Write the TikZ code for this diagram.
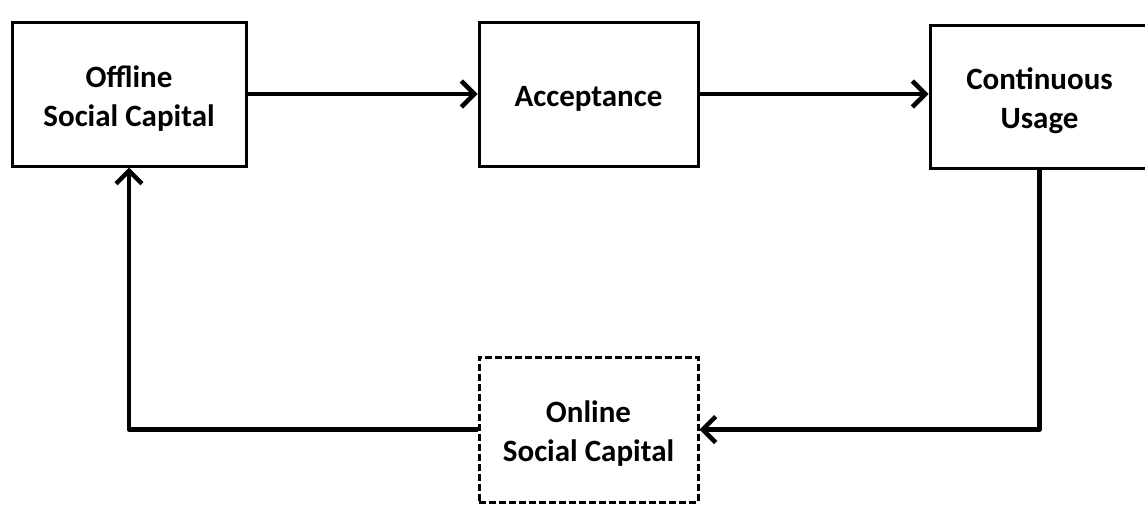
\documentclass[tikz,border=0pt]{standalone}
\usepackage{fontspec}
\setmainfont{Carlito}
\usetikzlibrary{arrows.meta}
\begin{document}
\begin{tikzpicture}[x=1pt,y=-1pt,
  box/.style={draw=black, line width=3pt, fill=white, rectangle, align=center,
    inner sep=0pt, font=\fontsize{31}{39}\selectfont\bfseries},
  dashbox/.style={box, dash pattern=on 7pt off 3pt},
  twoline/.style={text height=69pt},
  oneline/.style={text height=25pt, text depth=0pt},
  flow/.style={line width=4.5pt, line join=round,
    -{Straight Barb[length=13pt, width=26pt, line width=4.5pt]}}]
  \useasboundingbox (0,0) rectangle (1145,507);
  \node[box, twoline, minimum width=234pt, minimum height=144pt] (off) at (129,94)
    {Offline\\Social Capital};
  \node[box, oneline, minimum width=219pt, minimum height=144pt] (acc) at (588.5,94)
    {Acceptance};
  \node[box, twoline, minimum width=219pt, minimum height=143pt] (cont) at (1039.5,96.5)
    {Continuous\\Usage};
  \node[dashbox, twoline, minimum width=219pt, minimum height=145pt] (onl) at (588.5,429.5)
    {Online\\Social Capital};
  \draw[flow] (off.east) -- (acc.west);
  \draw[flow] (acc.east) -- (acc.east -| cont.west);
  \draw[flow] (cont.south) |- (onl.east);
  \draw[flow] (onl.west) -| (off.south);
\end{tikzpicture}
\end{document}
